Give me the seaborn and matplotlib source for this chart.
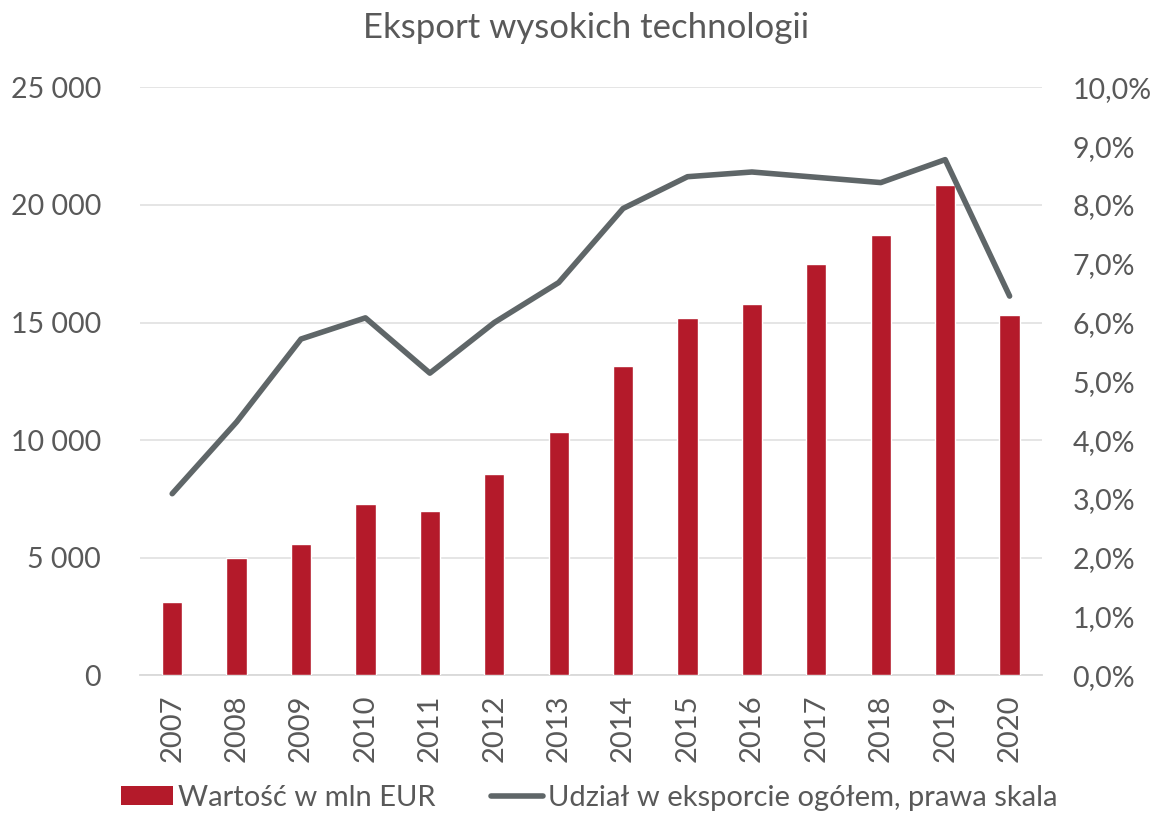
import numpy as np
import pandas as pd
import seaborn as sns
import matplotlib
import matplotlib.pyplot as plt
from matplotlib.ticker import FuncFormatter, MultipleLocator
from matplotlib.patches import Patch
from matplotlib.lines import Line2D

matplotlib.use('Agg')

years = ['2007', '2008', '2009', '2010', '2011', '2012', '2013',
         '2014', '2015', '2016', '2017', '2018', '2019', '2020']
value_mln_eur = [3120, 5005, 5600, 7275, 7005, 8550, 10340,
                 13155, 15200, 15780, 17480, 18710, 20840, 15325]
share_pct = [3.09, 4.31, 5.72, 6.08, 5.14, 6.00, 6.68,
             7.94, 8.48, 8.56, 8.47, 8.38, 8.77, 6.45]

bar_color = '#b41a2a'
line_color = '#5f6668'
text_color = '#595959'

df = pd.DataFrame({'year': years, 'value': value_mln_eur, 'share': share_pct})

sns.set_theme(style='white')
plt.rcParams['font.family'] = ['Lato', 'DejaVu Sans']

fig = plt.figure(figsize=(11.55, 8.19), dpi=100)
ax = fig.add_axes([0.1212, 0.1753, 0.7808, 0.7181])

sns.barplot(data=df, x='year', y='value', color=bar_color, width=0.315,
            saturation=1, ax=ax, zorder=3)
ax.set_ylim(0, 25000)
ax.yaxis.set_major_locator(MultipleLocator(5000))
ax.yaxis.set_major_formatter(FuncFormatter(lambda v, p: f'{int(v):,}'.replace(',', ' ')))
ax.grid(axis='y', color='#e3e3e3', linewidth=1.3, zorder=0)
ax.set_xlabel('')
ax.set_ylabel('')
ax.tick_params(axis='y', labelsize=20.5, labelcolor=text_color, length=0, pad=28)
ax.tick_params(axis='x', labelsize=21, labelcolor=text_color, length=0, pad=14, rotation=90)
for s in ['top', 'right', 'left']:
    ax.spines[s].set_visible(False)
ax.spines['bottom'].set_color('#d9d9d9')
ax.spines['bottom'].set_linewidth(1.3)

# share of total exports on the right-hand scale
ax2 = ax.twinx()
sns.lineplot(x=df.index, y=df['share'], color=line_color, linewidth=4, ax=ax2,
             zorder=4)
ax2.set_ylim(0, 10)
ax2.yaxis.set_major_locator(MultipleLocator(1))
ax2.yaxis.set_major_formatter(FuncFormatter(lambda v, p: f'{v:.1f}%'.replace('.', ',')))
ax2.tick_params(axis='y', labelsize=20.5, labelcolor=text_color, length=0, pad=22)
ax2.set_ylabel('')
for s in ax2.spines.values():
    s.set_visible(False)
ax2.grid(False)
ax.set_xlim(-0.5, len(years) - 0.5)

fig.suptitle('Eksport wysokich technologii', x=0.507, y=0.985, fontsize=25,
             color=text_color)

handles = [Patch(facecolor=bar_color, edgecolor='none'),
           Line2D([0], [0], color=line_color, linewidth=4)]
labels = ['Wartość w mln EUR', 'Udział w eksporcie ogółem, prawa skala']
fig.legend(handles, labels, loc='lower center', bbox_to_anchor=(0.51, -0.022),
           ncol=2, frameon=False, fontsize=21, labelcolor=text_color,
           handlelength=1.78, handleheight=0.58, handletextpad=0.17, columnspacing=1.9)

fig.savefig('out.png', dpi=100)
